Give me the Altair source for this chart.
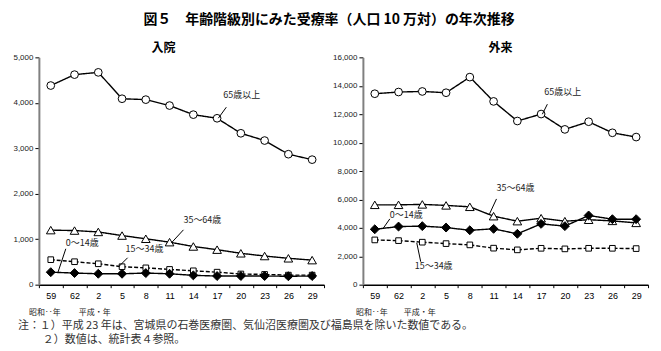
import altair as alt
import pandas as pd

# ---------------- data ----------------
years = ["59", "62", "2", "5", "8", "11", "14", "17", "20", "23", "26", "29"]
series = ["65歳以上", "35～64歳", "15～34歳", "0～14歳"]

inpatient_65 = [4380, 4620, 4670, 4090, 4070, 3940, 3740, 3660, 3330, 3170, 2870, 2750]
inpatient_35 = [1200, 1190, 1160, 1080, 1010, 935, 840, 770, 690, 630, 580, 540]
inpatient_15 = [550, 505, 460, 395, 370, 335, 305, 275, 235, 225, 210, 210]
inpatient_0 = [275, 255, 240, 240, 255, 240, 205, 190, 190, 190, 185, 190]

outpatient_65 = [13440, 13560, 13600, 13510, 14610, 12900, 11520, 12010, 10930, 11470, 10690, 10390]
outpatient_35 = [5620, 5620, 5650, 5580, 5480, 4820, 4470, 4680, 4470, 4570, 4490, 4350]
outpatient_15 = [3150, 3100, 2990, 2890, 2800, 2570, 2450, 2560, 2520, 2560, 2560, 2540]
outpatient_0 = [3900, 4090, 4120, 4020, 3830, 3930, 3580, 4280, 4120, 4870, 4610, 4610]

title_text = "図５　年齢階級別にみた受療率（人口 10 万対）の年次推移"
panel_titles = ["入院", "外来"]
era_labels = ["昭和‥年", "平成・年"]
notes = ["注：１）平成 23 年は、宮城県の石巻医療圏、気仙沼医療圏及び福島県を除いた数値である。",
         "２）数値は、統計表４参照。"]


def long_df(values_by_series):
    rows = []
    for s, vals in zip(series, values_by_series):
        for i, (yr, v) in enumerate(zip(years, vals)):
            rows.append({"series": s, "year": yr, "order": i, "value": v})
    return pd.DataFrame(rows)


df_in = long_df([inpatient_65, inpatient_35, inpatient_15, inpatient_0])
df_out = long_df([outpatient_65, outpatient_35, outpatient_15, outpatient_0])

# ---------------- layout / style ----------------
W, H = 286, 228
FONT = "Noto Sans CJK JP"
NUMFONT = "Liberation Sans"

# marker style per series: (shape, fill, size)
marker = {
    "65歳以上": ("circle", "white", 60),
    "35～64歳": ("triangle-up", "white", 75),
    "15～34歳": ("square", "white", 32),
    "0～14歳": ("diamond", "black", 80),
}

# annotation layout (pixel offsets relative to each panel's plot origin)
ann_left = [
    ("65歳以上", 185, 38, (188, 50, 180, 61)),
    ("35～64歳", 145, 163, (145, 173, 133, 186)),
    ("0～14歳", 27, 186, (27, 192, 19, 216)),
    ("15～34歳", 87, 192, (89, 201, 80, 210)),
]
ann_right = [
    ("65歳以上", 182, 35, (185, 47, 180, 57)),
    ("35～64歳", 134, 131, (134, 142, 127, 157)),
    ("0～14歳", 27, 158, (27, 162, 20, 172)),
    ("15～34歳", 52, 209, (54, 186, 58, 205)),
]

one = alt.Data(values=[{"a": 0}])


def text_at(s, x, y, size, weight="normal", align="left", font=FONT, color="#222"):
    return alt.Chart(one).mark_text(
        align=align, baseline="middle", fontSize=size, fontWeight=weight,
        font=font, color=color
    ).encode(x=alt.value(x), y=alt.value(y), text=alt.value(s))


def rule_at(x1, y1, x2, y2, color="black", width=1):
    return alt.Chart(one).mark_rule(color=color, strokeWidth=width).encode(
        x=alt.value(x1), y=alt.value(y1), x2=alt.value(x2), y2=alt.value(y2))


def panel(df, ymax, ystep, anns, sub_title, sub_x, era_x, extras):
    x = alt.X("year:N", sort=years, bandPosition=0.5,
              scale=alt.Scale(type="band", paddingInner=0, paddingOuter=0),
              axis=alt.Axis(title=None, labelAngle=0, tickBand="extent",
                            domainColor="black", domainWidth=1.5,
                            tickColor="black", tickSize=3, labelPadding=4,
                            labelFont=NUMFONT, labelFontSize=9, labelColor="black",
                            grid=False))
    y = alt.Y("value:Q", scale=alt.Scale(domain=[0, ymax], nice=False),
              axis=alt.Axis(title=None, values=list(range(0, ymax + 1, ystep)),
                            format=",.0f", domainColor="#808080", domainWidth=2,
                            tickColor="black", tickSize=4, labelPadding=2,
                            labelFont=NUMFONT, labelFontSize=8, labelColor="#222",
                            grid=False))
    base = alt.Chart(df)
    lines = base.mark_line(color="black", strokeWidth=1.4).encode(
        x=x, y=y, detail="series:N", order="order:Q",
        strokeDash=alt.StrokeDash("series:N", legend=None,
                                  scale=alt.Scale(domain=series,
                                                  range=[[1, 0], [1, 0], [4, 2], [1, 0]])))
    layers = [lines]
    for s in series:
        shp, fill, size = marker[s]
        layers.append(
            base.transform_filter(alt.datum.series == s).mark_point(
                shape=shp, filled=True, fill=fill, stroke="black", strokeWidth=1,
                size=size, opacity=1, fillOpacity=1
            ).encode(x=x, y=y)
        )
    for label, tx, ty, (x1, y1, x2, y2) in anns:
        layers.append(rule_at(x1, y1, x2, y2))
        layers.append(text_at(label, tx, ty, 9))
    layers.append(text_at(sub_title, sub_x, -9, 12, weight="bold", align="center", color="black"))
    layers.append(text_at(era_labels[0], era_x[0], 256, 8))
    layers.append(text_at(era_labels[1], era_x[1], 256, 8))
    layers.extend(extras)
    return alt.layer(*layers).properties(width=W, height=H)


left_extras = [
    text_at(title_text, 291, -37, 14, weight="bold", align="center", color="black"),
    text_at(notes[0], -21, 269, 11, color="#333"),
    text_at(notes[1], 4, 284, 11, color="#333"),
    rule_at(-38, -56, -37, -55, color="white"),
]
right_extras = [
    rule_at(297, 294, 298, 295, color="white"),
]

left = panel(df_in, 5000, 1000, ann_left, panel_titles[0], 125, (-10, 40), left_extras)
right = panel(df_out, 16000, 2000, ann_right, panel_titles[1], 138, (-7, 41), right_extras)

chart = alt.hconcat(left, right, spacing=39, bounds="flush").resolve_scale(
    x="independent", y="independent"
).properties(
    padding=0, background="white"
).configure_view(stroke=None)

chart.save("out.html", embed_options={"renderer": "svg", "actions": False})
